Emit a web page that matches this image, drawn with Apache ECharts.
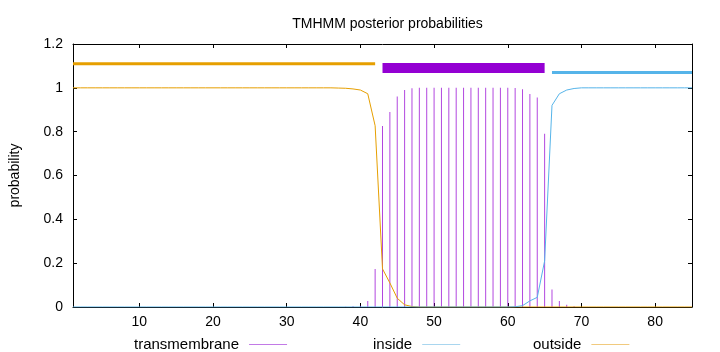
<!DOCTYPE html>
<html>
<head>
<meta charset="utf-8">
<script src="https://cdn.jsdelivr.net/npm/echarts@6/dist/echarts.min.js"></script>
<style>html,body{margin:0;padding:0;background:#fff}#c{width:720px;height:352px}</style>
</head>
<body>
<div id="c"></div>
<script>
// sequence positions 1..85
var positions = [1,2,3,4,5,6,7,8,9,10,11,12,13,14,15,16,17,18,19,20,21,22,23,24,25,26,27,28,29,30,31,32,33,34,35,36,37,38,39,40,41,42,43,44,45,46,47,48,49,50,51,52,53,54,55,56,57,58,59,60,61,62,63,64,65,66,67,68,69,70,71,72,73,74,75,76,77,78,79,80,81,82,83,84,85];

var transmembrane = [
  0,0,0,0,0,0,0,0,0,0, 0,0,0,0,0,0,0,0,0,0, 0,0,0,0,0,0,0,0,0,0, 0,0,0,0,0,0,0,
  0.001,0.003,0.006,0.027,0.173,0.826,0.89,0.96,0.99,0.998,
  1,1,1,1,1,1,1,1,1,1,1,1,1,
  0.999,0.994,0.972,0.956,0.79,0.08,0.027,0.01,0.003,
  0,0,0,0,0,0,0,0,0,0,0,0,0,0,0,0
];

var outsideProb = [
  1,1,1,1,1,1,1,1,1,1, 1,1,1,1,1,1,1,1,1,1, 1,1,1,1,1,1,1,1,1,1, 1,1,1,1,1,1,
  0.999,0.998,0.995,0.99,0.973,0.827,0.174,0.11,0.04,0.01,0.002,
  0,0,0,0,0,0,0,0,0,0, 0,0,0,0,0,0,0,0,0,0, 0,0,0,0,0,0,0,0,0,0, 0,0,0,0,0,0,0,0
];

var insideProb = [
  0,0,0,0,0,0,0,0,0,0, 0,0,0,0,0,0,0,0,0,0, 0,0,0,0,0,0,0,0,0,0,
  0,0,0,0,0,0,0,0,0,0, 0,0,0,0,0,0,0,0,0,0, 0,0,0,0,0,0,0,0,0,0,
  0.001,0.006,0.028,0.044,0.21,0.92,0.973,0.99,0.997,
  1,1,1,1,1,1,1,1,1,1,1,1,1,1,1,1
];

// predicted topology segments
var segNames = ['outside', 'TMhelix', 'inside'];
var segStart = [1, 43, 66];
var segEnd = [42, 65, 85];
var segLevel = [1.11, 1.09, 1.07];

var xTicks = [10, 20, 30, 40, 50, 60, 70, 80];

function pairs(xs, ys) { return xs.map(function (x, i) { return [x, ys[i]]; }); }

var FONT = 'Liberation Sans';
var segColors = ['#E69F00', '#9400D3', '#56B4E9'];
var segWidths = [3, 10, 3];

var series = [
  { name: 'transmembrane', type: 'bar', barWidth: 1, data: pairs(positions, transmembrane),
    itemStyle: { color: 'rgba(148,0,211,0.72)' }, z: 2 },
  { name: 'outside', type: 'line', data: pairs(positions, outsideProb), showSymbol: false, symbol: 'none',
    lineStyle: { color: '#E69F00', width: 1 }, itemStyle: { color: '#E69F00' }, z: 3 },
  { name: 'inside', type: 'line', data: pairs(positions, insideProb), showSymbol: false, symbol: 'none',
    lineStyle: { color: '#56B4E9', width: 1 }, itemStyle: { color: '#56B4E9' }, z: 3 }
];
segNames.forEach(function (n, i) {
  series.push({ name: 'seg-' + n, type: 'line', symbol: 'none', z: 4,
    data: [[segStart[i], segLevel[i]], [segEnd[i], segLevel[i]]],
    lineStyle: { color: segColors[i], width: segWidths[i], cap: 'butt' } });
});

function legendFor(name, left, color) {
  return { show: true, left: left, top: 332, align: 'right', icon: 'rect', itemWidth: 38, itemHeight: 1,
    textStyle: { fontFamily: FONT, fontSize: 15, color: '#000', padding: [0, 5, 0, 0] },
    selectedMode: false,
    data: [{ name: name, itemStyle: { color: color } }] };
}

var chart = echarts.init(document.getElementById('c'), null, { renderer: 'canvas' });
chart.setOption({
  animation: false,
  backgroundColor: '#fff',
  title: { text: 'TMHMM posterior probabilities', left: 382.5, top: 12, textAlign: 'center',
    textStyle: { fontFamily: FONT, fontSize: 14, fontWeight: 'normal', color: '#000' } },
  legend: [
    legendFor('transmembrane', 129, '#c27ae6'),
    legendFor('inside', 368, '#a9d6ef'),
    legendFor('outside', 528, '#f1ca7e')
  ],
  grid: { left: 73, right: 28, top: 44, bottom: 45, containLabel: false },
  xAxis: [
    { type: 'value', min: 1, max: 85, position: 'bottom',
      axisLine: { show: true, onZero: false, lineStyle: { color: '#000', width: 1 } },
      axisTick: { show: true, inside: true, length: 4, customValues: xTicks, lineStyle: { color: '#000' } },
      axisLabel: { show: true, customValues: xTicks, margin: 8, fontFamily: FONT, fontSize: 14, color: '#000' },
      splitLine: { show: false } },
    { type: 'value', min: 1, max: 85, position: 'top',
      axisLine: { show: true, onZero: false, lineStyle: { color: '#000', width: 1 } },
      axisTick: { show: true, inside: true, length: 4, customValues: xTicks, lineStyle: { color: '#000' } },
      axisLabel: { show: false }, splitLine: { show: false } }
  ],
  yAxis: [
    { type: 'value', min: 0, max: 1.2, interval: 0.2, position: 'left',
      name: 'probability', nameLocation: 'middle', nameRotate: 90, nameGap: 51,
      nameTextStyle: { fontFamily: FONT, fontSize: 14, color: '#000' },
      axisLine: { show: true, onZero: false, lineStyle: { color: '#000', width: 1 } },
      axisTick: { show: true, inside: true, length: 4, lineStyle: { color: '#000' } },
      axisLabel: { show: true, margin: 10, fontFamily: FONT, fontSize: 14, color: '#000' },
      splitLine: { show: false } },
    { type: 'value', min: 0, max: 1.2, interval: 0.2, position: 'right',
      axisLine: { show: true, onZero: false, lineStyle: { color: '#000', width: 1 } },
      axisTick: { show: true, inside: true, length: 4, lineStyle: { color: '#000' } },
      axisLabel: { show: false }, splitLine: { show: false } }
  ],
  series: series
});
</script>
</body>
</html>
